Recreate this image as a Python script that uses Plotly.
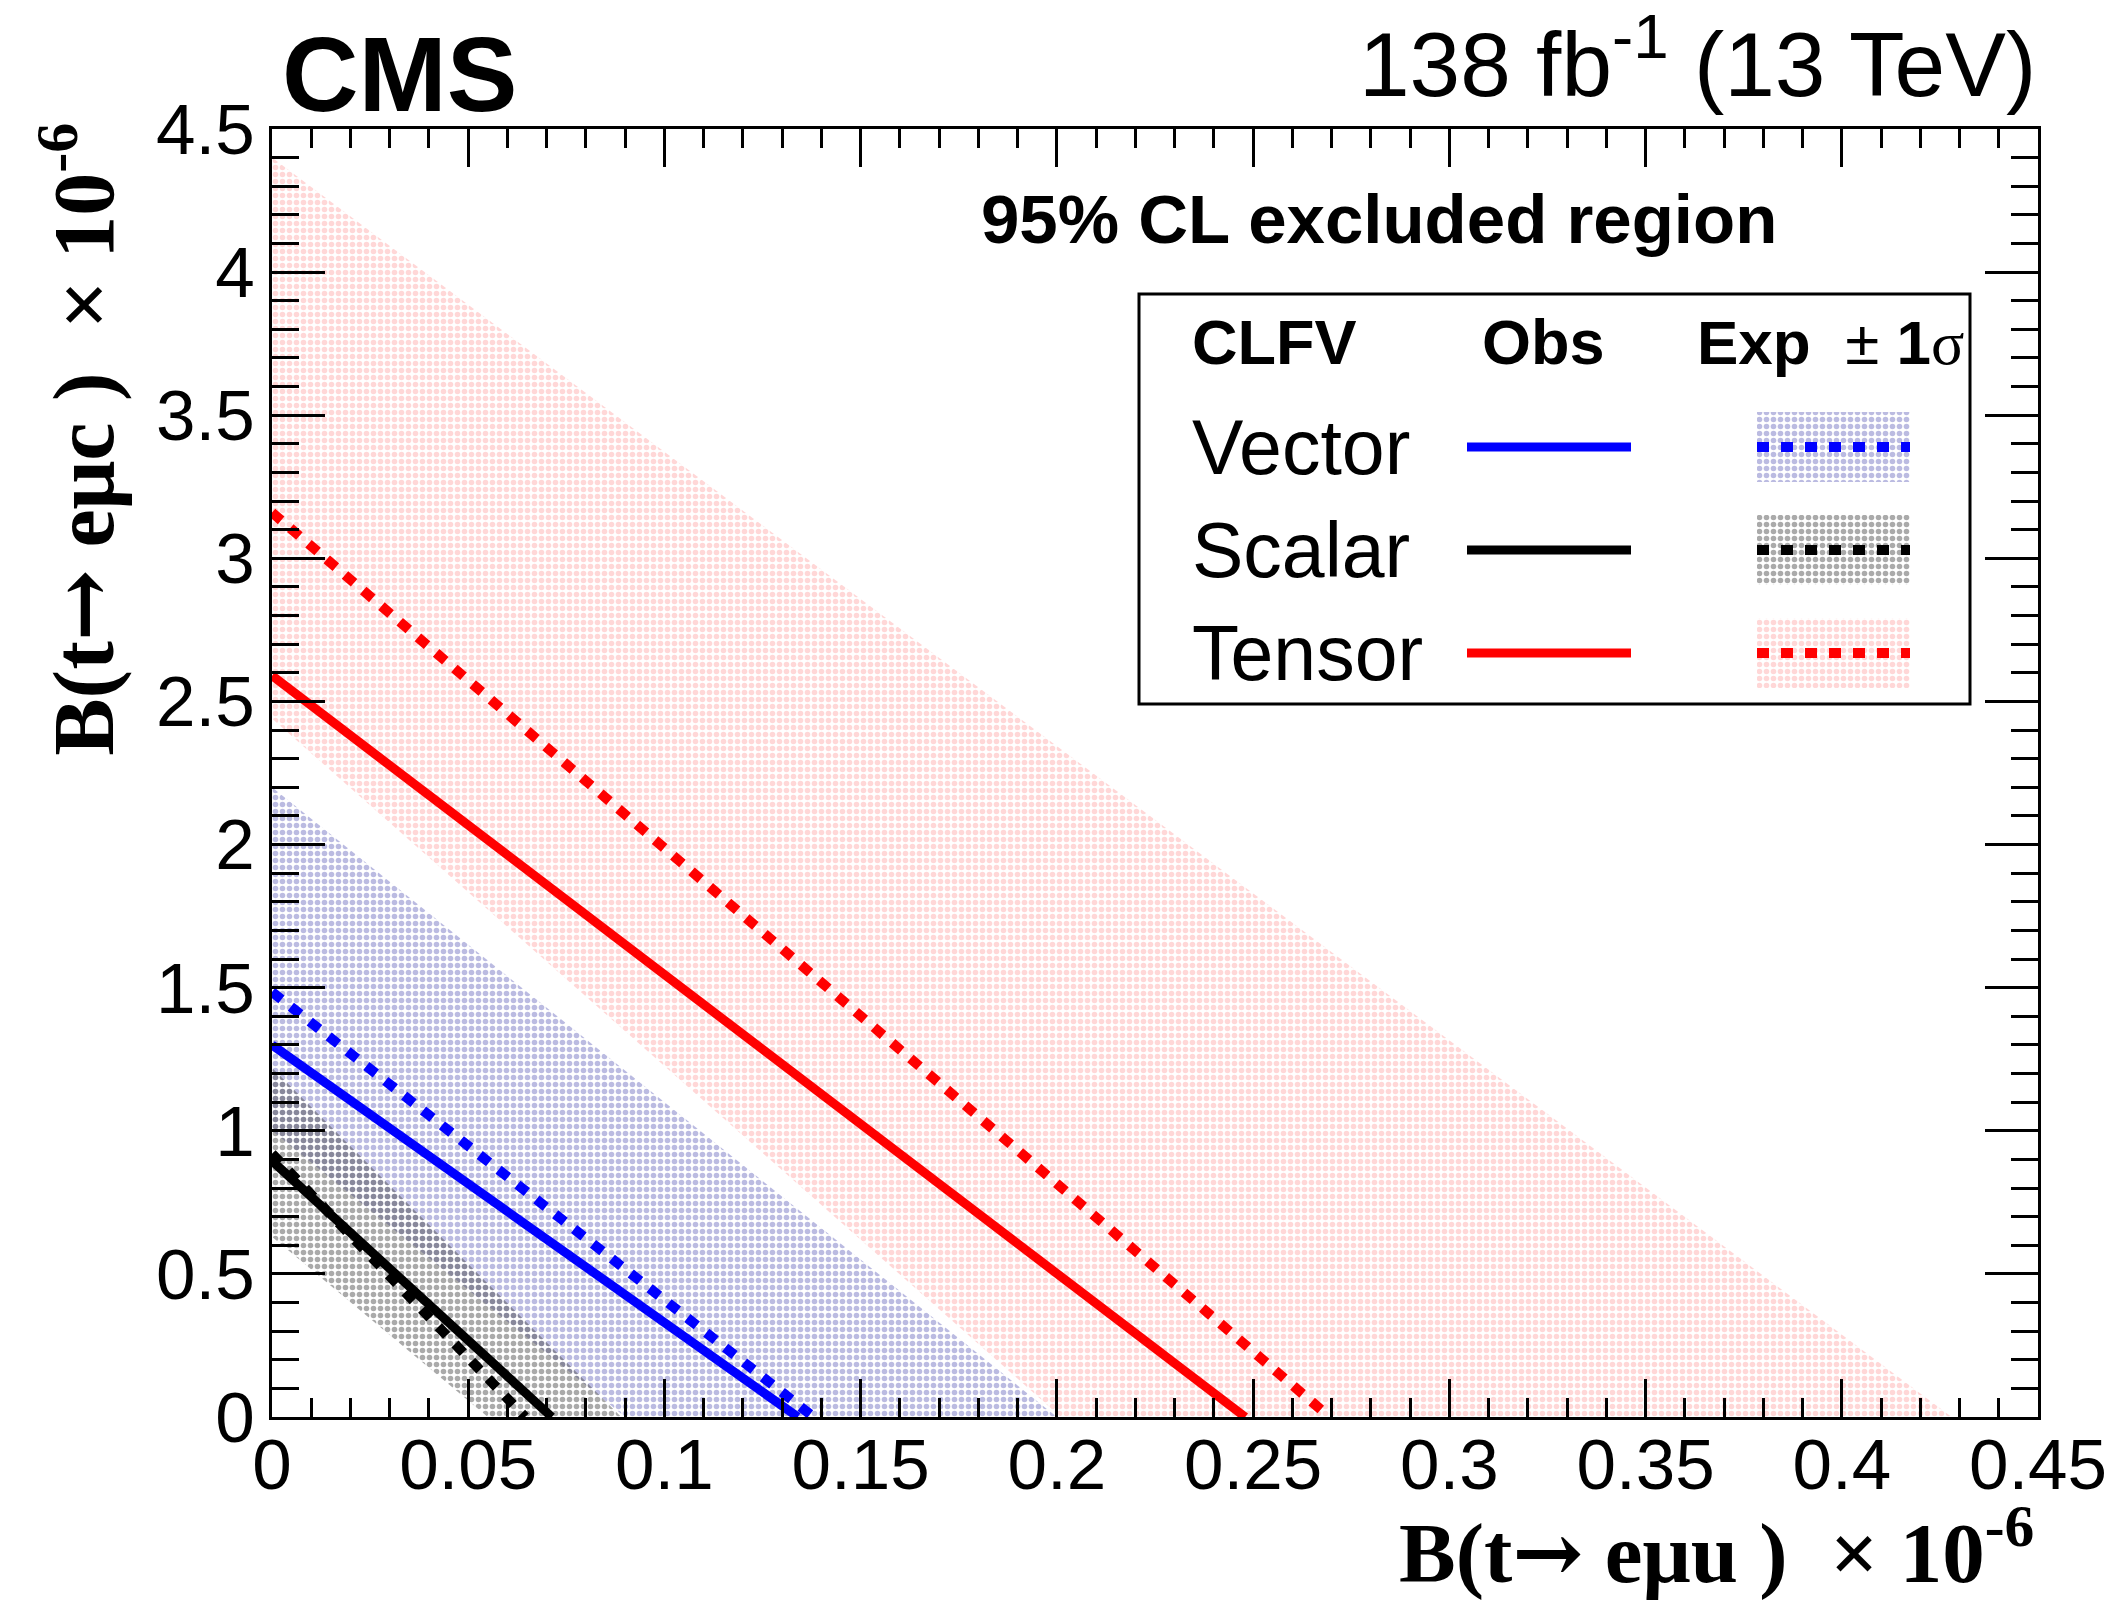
import plotly.graph_objects as go

# ---------------- data (units of 1e-6) ----------------
models = ["Vector", "Scalar", "Tensor"]
colors = ["#0000ff", "#000000", "#ff0000"]
band_colors = ["rgb(120,120,195)", "rgb(85,85,85)", "rgb(255,175,175)"]

# observed limits: intercepts on each axis
obs_emuc = [1.30, 0.895, 2.59]     # B(t->e mu c)
obs_emuu = [0.134, 0.0713, 0.248]  # B(t->e mu u)
# expected limits
exp_emuc = [1.485, 0.92, 3.16]
exp_emuu = [0.138, 0.0645, 0.2695]
# expected +-1 sigma band edges
lo_emuc = [1.00, 0.63, 2.44]
lo_emuu = [0.090, 0.055, 0.201]
hi_emuc = [2.20, 1.22, 4.40]
hi_emuu = [0.200, 0.089, 0.428]

x_tickvals = [0, 0.05, 0.1, 0.15, 0.2, 0.25, 0.3, 0.35, 0.4, 0.45]
x_ticktext = ["0", "0.05", "0.1", "0.15", "0.2", "0.25", "0.3", "0.35", "0.4", "0.45"]
y_tickvals = [0, 0.5, 1, 1.5, 2, 2.5, 3, 3.5, 4, 4.5]
y_ticktext = ["0", "0.5", "1", "1.5", "2", "2.5", "3", "3.5", "4", "4.5"]

W, H = 2126, 1602
L, R, T, B = 272, 88, 129, 185
PW, PH = W - L - R, H - T - B

def px(xp):
    return (xp - L) / PW

def py(yp):
    return (H - B - yp) / PH

SANS = "Liberation Sans, Arial, Helvetica, sans-serif"
SERIF = "Liberation Serif, Times New Roman, serif"
ARROW = "<span style='font-family:DejaVu Serif'>\u2192</span>"

fig = go.Figure()

def pattern(c):
    return dict(shape=".", fgcolor=c, size=7, solidity=0.5)

# bands: red first, then blue, then gray on top
for i in [2, 0, 1]:
    fig.add_trace(go.Scatter(
        x=[0, 0, hi_emuu[i], lo_emuu[i], 0],
        y=[lo_emuc[i], hi_emuc[i], 0, 0, lo_emuc[i]],
        mode="none", fill="toself", fillcolor="rgba(0,0,0,0)",
        fillpattern=pattern(band_colors[i]), showlegend=False, hoverinfo="skip"))

# lines
for i in range(3):
    fig.add_trace(go.Scatter(x=[0, obs_emuu[i]], y=[obs_emuc[i], 0], mode="lines",
                             line=dict(color=colors[i], width=9), showlegend=False))
    fig.add_trace(go.Scatter(x=[0, exp_emuu[i]], y=[exp_emuc[i], 0], mode="lines",
                             line=dict(color=colors[i], width=10, dash="12px,12px"),
                             showlegend=False))

# ---------------- custom legend (drawn on an overlay axis in paper units) ----------------
leg_x0, leg_x1 = px(1139), px(1970)
leg_y0, leg_y1 = py(704), py(294)
row_y = [py(447), py(550), py(653)]
obs_x = [px(1467), px(1631)]
exp_x = [px(1757), px(1910)]
half_h = 35 / PH

for i in range(3):
    yc = row_y[i]
    fig.add_trace(go.Scatter(
        x=[exp_x[0], exp_x[1], exp_x[1], exp_x[0], exp_x[0]],
        y=[yc - half_h, yc - half_h, yc + half_h, yc + half_h, yc - half_h],
        xaxis="x2", yaxis="y2", mode="none", fill="toself", fillcolor="rgba(0,0,0,0)",
        fillpattern=pattern(band_colors[i]), showlegend=False, hoverinfo="skip"))
    fig.add_trace(go.Scatter(x=obs_x, y=[yc, yc], xaxis="x2", yaxis="y2", mode="lines",
                             line=dict(color=colors[i], width=9), showlegend=False))
    fig.add_trace(go.Scatter(x=exp_x, y=[yc, yc], xaxis="x2", yaxis="y2", mode="lines",
                             line=dict(color=colors[i], width=10, dash="12px,12px"),
                             showlegend=False))

shapes = [dict(type="rect", xref="paper", yref="paper", x0=leg_x0, x1=leg_x1,
               y0=leg_y0, y1=leg_y1, line=dict(color="black", width=3),
               fillcolor="rgba(0,0,0,0)", layer="above")]

ann = []
def text(x, y, s, size, xanchor="left", yanchor="middle", family=SANS, angle=0):
    ann.append(dict(x=x, y=y, xref="paper", yref="paper", text=s, showarrow=False,
                    xanchor=xanchor, yanchor=yanchor, textangle=angle,
                    font=dict(size=size, family=family, color="black")))

text(px(1190), py(342), "<b>CLFV</b>", 63)
text(px(1543), py(342), "<b>Obs</b>", 63, xanchor="center")
text(px(1695), py(342), "<b>Exp</b>\u00a0 \u00b1 <b>1</b><span style='font-family:Liberation Serif'>\u03c3</span>", 62)
for i in range(3):
    text(px(1190), row_y[i], models[i], 77)

text(px(280), py(74), "<b>CMS</b>", 106)
text(1.0, py(58), "138 fb<sup>-1</sup> (13 TeV)", 91, xanchor="right")
text(px(1379), py(220), "<b>95% CL excluded region</b>", 69, xanchor="center")
text(px(2036), py(1547), "<b>B(t" + ARROW + " e\u03bcu )\u00a0\u00a0\u00d7 10<sup>-6</sup></b>", 85,
     xanchor="right", family=SERIF)
text(px(78), 1.006, "<b>B(t" + ARROW + " e\u03bcc )\u00a0\u00a0\u00d7 10<sup>-6</sup></b>", 86,
     xanchor="center", yanchor="top", family=SERIF, angle=-90)

axis_common = dict(showline=True, linewidth=3, linecolor="black", mirror="allticks",
                   ticks="inside", tickwidth=3, tickcolor="black", showgrid=False,
                   zeroline=False, tickfont=dict(size=71, family=SANS, color="black"))

fig.update_layout(
    width=W, height=H,
    margin=dict(l=L, r=R, t=T, b=B),
    paper_bgcolor="white", plot_bgcolor="white",
    showlegend=False,
    xaxis=dict(range=[0, 0.45], tickvals=x_tickvals, ticktext=x_ticktext, ticklen=38,
               ticklabelstandoff=-16,
               minor=dict(dtick=0.01, tick0=0, ticklen=19, tickwidth=3, ticks="inside",
                          tickcolor="black"), **axis_common),
    yaxis=dict(range=[0, 4.5], tickvals=y_tickvals, ticktext=y_ticktext, ticklen=53,
               minor=dict(dtick=0.1, tick0=0, ticklen=27, tickwidth=3, ticks="inside",
                          tickcolor="black"), **axis_common),
    xaxis2=dict(range=[0, 1], overlaying="x", visible=False, fixedrange=True),
    yaxis2=dict(range=[0, 1], overlaying="y", visible=False, fixedrange=True),
    shapes=shapes, annotations=ann,
)

fig.write_html("out.html", config={"displayModeBar": False},
               post_script="document.body.style.margin='0px';")
